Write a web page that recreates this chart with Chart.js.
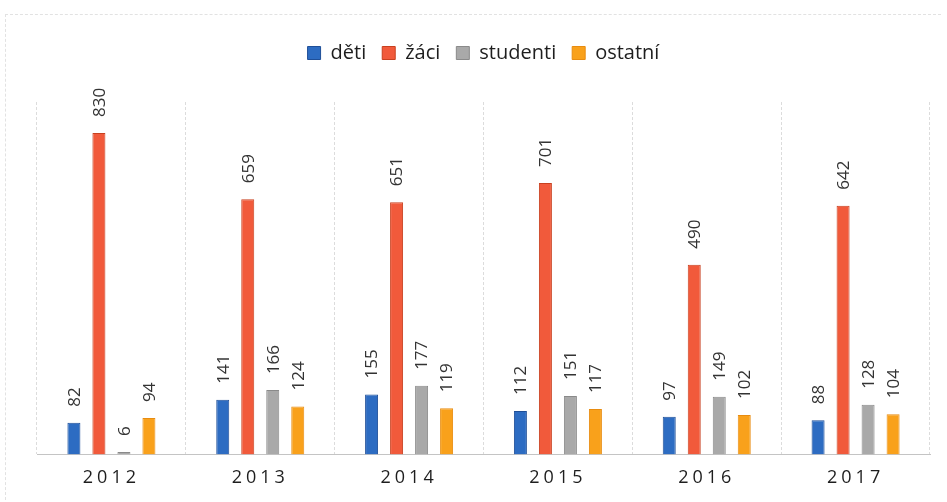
<!DOCTYPE html>
<html>
<head>
<meta charset="utf-8">
<script src="https://cdn.jsdelivr.net/npm/chart.js@4.4.1/dist/chart.umd.min.js"></script>
<style>
  html, body { margin: 0; padding: 0; background: #fff; }
  #wrap { position: relative; width: 947px; height: 502px; }
  #frame { position: absolute; left: 5px; top: 14px; width: 935px; height: 490px;
           border-top: 1px dashed #e2e2e2; border-left: 1px dashed #e2e2e2; }
  canvas { position: absolute; left: 0; top: 0; }
</style>
</head>
<body>
<div id="wrap">
  <div id="frame"></div>
  <canvas id="chart" width="947" height="502"></canvas>
</div>
<script>
const years = ["2012", "2013", "2014", "2015", "2016", "2017"];
const deti = [82, 141, 155, 112, 97, 88];
const zaci = [830, 659, 651, 701, 490, 642];
const studenti = [6, 166, 177, 151, 149, 128];
const ostatni = [94, 124, 119, 117, 102, 104];

const fontFamily = "'Open Sans', sans-serif";

// values above bars, turned on their side
const barLabels = {
  id: "barLabels",
  afterDatasetsDraw(chart) {
    const ctx = chart.ctx;
    chart.data.datasets.forEach((ds, i) => {
      chart.getDatasetMeta(i).data.forEach((bar, j) => {
        ctx.save();
        ctx.translate(bar.x, bar.y - 16);
        ctx.rotate(-Math.PI / 2);
        ctx.font = "17px " + fontFamily;
        ctx.fillStyle = "#333";
        ctx.textAlign = "left";
        ctx.textBaseline = "middle";
        ctx.fillText(ds.data[j], 0, 1);
        ctx.restore();
      });
    });
  },
};

// extra room below the legend
const legendGap = {
  id: "legendGap",
  beforeInit(chart) {
    const fit = chart.legend.fit;
    chart.legend.fit = function () {
      fit.call(this);
      this.height += 29;
    };
  },
};

// spaced-out year labels
const spacedTicks = {
  id: "spacedTicks",
  afterLayout(chart) {
    const x = chart.scales.x;
    if (x._spaced) return;
    const orig = x.drawLabels;
    x.drawLabels = function (area) {
      this.ctx.save();
      this.ctx.letterSpacing = "4px";
      orig.call(this, area);
      this.ctx.restore();
    };
    x._spaced = true;
  },
};

new Chart(document.getElementById("chart"), {
  type: "bar",
  data: {
    labels: years,
    datasets: [
      { label: "děti", data: deti, backgroundColor: "#2d6cc2", borderColor: "#1f4f98", borderWidth: 1 },
      { label: "žáci", data: zaci, backgroundColor: "#f15a3b", borderColor: "#c8401f", borderWidth: 1 },
      { label: "studenti", data: studenti, backgroundColor: "#a9a9a9", borderColor: "#8a8a8a", borderWidth: 1 },
      { label: "ostatní", data: ostatni, backgroundColor: "#f9a11b", borderColor: "#e88c10", borderWidth: 1 },
    ],
  },
  options: {
    responsive: false,
    animation: false,
    layout: { padding: { top: 27, left: 37, right: 17, bottom: 0 } },
    datasets: { bar: { categoryPercentage: 0.672, barPercentage: 0.52 } },
    scales: {
      x: {
        grid: { offset: true, color: "#dcdcdc", drawTicks: false },
        border: { color: "#c4c4c4", dash: [3, 2] },
        ticks: { padding: 13, color: "#1e1e1e", font: { size: 18, family: fontFamily } },
      },
      y: { display: false, min: 0, max: 910 },
    },
    plugins: {
      legend: {
        position: "top",
        labels: {
          boxWidth: 13,
          boxHeight: 13,
          padding: 16,
          color: "#1e1e1e",
          font: { size: 20, family: fontFamily },
        },
      },
      tooltip: { enabled: false },
    },
  },
  plugins: [barLabels, legendGap, spacedTicks],
});
</script>
</body>
</html>
